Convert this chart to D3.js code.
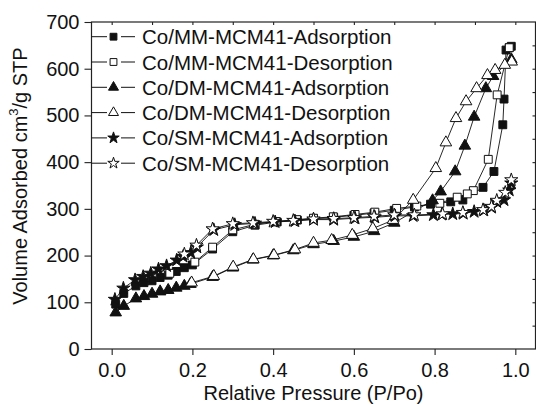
<!DOCTYPE html>
<html>
<head>
<meta charset="utf-8">
<script src="https://cdn.jsdelivr.net/npm/d3@7"></script>
<style>
  body { margin: 0; background: #fff; }
  svg text { font-family: "Liberation Sans", Arial, sans-serif; fill: #111; }
</style>
</head>
<body>
<div class="container"></div>
<script>
// MM series (squares)
const mmAdsX = [0.01, 0.03, 0.06, 0.08, 0.10, 0.12, 0.14, 0.16, 0.18, 0.20, 0.25, 0.30, 0.355, 0.41, 0.46, 0.50, 0.55, 0.60, 0.65, 0.70, 0.75, 0.79, 0.84, 0.87, 0.92, 0.947, 0.969, 0.972, 0.977, 0.985, 0.99];
const mmAdsY = [96, 119, 135, 142, 146, 153, 158, 166, 174, 180, 214, 251, 265, 272, 276, 279, 282, 286, 291, 297, 304, 310, 315, 319, 346, 380, 480, 535, 640, 645, 648];
const mmDesX = [0.985, 0.955, 0.933, 0.896, 0.881, 0.856, 0.813, 0.756, 0.706, 0.652, 0.603, 0.549, 0.50, 0.458, 0.407, 0.355, 0.30, 0.25, 0.206, 0.144];
const mmDesY = [645, 544, 406, 339, 332, 325, 312, 306, 301, 293, 288, 283, 280, 277, 273, 267, 255, 218, 186, 162];

// DM series (triangles)
const dmAdsX = [0.01, 0.03, 0.06, 0.08, 0.10, 0.12, 0.14, 0.16, 0.18, 0.195, 0.25, 0.30, 0.35, 0.40, 0.45, 0.50, 0.55, 0.60, 0.65, 0.70, 0.795, 0.815, 0.851, 0.875, 0.898, 0.927, 0.945, 0.99];
const dmAdsY = [78, 92, 108, 113, 118, 123, 126, 131, 135, 139, 154, 174, 191, 200, 211, 224, 231, 240, 252, 270, 318, 337, 380, 435, 497, 558, 584, 620];
const dmDesX = [0.991, 0.974, 0.95, 0.931, 0.904, 0.878, 0.853, 0.828, 0.803, 0.747, 0.697, 0.647, 0.596, 0.545, 0.50, 0.454, 0.402, 0.351, 0.301, 0.253, 0.198];
const dmDesY = [615, 608, 597, 586, 558, 530, 494, 442, 387, 319, 276, 258, 244, 233, 227, 213, 201, 192, 176, 156, 142];

// SM series (stars)
const smAdsX = [0.008, 0.029, 0.058, 0.078, 0.097, 0.116, 0.136, 0.161, 0.177, 0.196, 0.211, 0.253, 0.305, 0.355, 0.405, 0.454, 0.50, 0.55, 0.603, 0.652, 0.702, 0.747, 0.797, 0.818, 0.845, 0.871, 0.898, 0.922, 0.941, 0.954, 0.972, 0.985, 0.99];
const smAdsY = [106, 130, 148, 155, 162, 171, 178, 190, 198, 206, 218, 255, 266, 269, 272, 274, 277, 277, 280, 282, 285, 285, 287, 288, 289, 290, 294, 297, 303, 315, 319, 340, 355];
const smDesX = [0.99, 0.975, 0.954, 0.941, 0.92, 0.87, 0.82, 0.75, 0.70, 0.65, 0.60, 0.55, 0.50, 0.45, 0.40, 0.35, 0.30, 0.25, 0.21, 0.18];
const smDesY = [362, 335, 318, 305, 298, 292, 289, 287, 287, 284, 281, 279, 278, 275, 273, 270, 268, 257, 222, 203];

const seriesNames = ['Co/MM-MCM41-Adsorption', 'Co/MM-MCM41-Desorption', 'Co/DM-MCM41-Adsorption', 'Co/DM-MCM41-Desorption', 'Co/SM-MCM41-Adsorption', 'Co/SM-MCM41-Desorption'];
const xTicks = [0.0, 0.2, 0.4, 0.6, 0.8, 1.0];
const yTicks = [0, 100, 200, 300, 400, 500, 600, 700];

const series = [
  { name: seriesNames[0], xs: mmAdsX, ys: mmAdsY, shape: d3.symbolSquare, size: 62, filled: true },
  { name: seriesNames[1], xs: mmDesX, ys: mmDesY, shape: d3.symbolSquare, size: 62, filled: false },
  { name: seriesNames[2], xs: dmAdsX, ys: dmAdsY, shape: d3.symbolTriangle, size: 58, filled: true },
  { name: seriesNames[3], xs: dmDesX, ys: dmDesY, shape: d3.symbolTriangle, size: 58, filled: false },
  { name: seriesNames[4], xs: smAdsX, ys: smAdsY, shape: d3.symbolStar, size: 54, filled: true },
  { name: seriesNames[5], xs: smDesX, ys: smDesY, shape: d3.symbolStar, size: 54, filled: false }
];

const width = 536;
const height = 405;
const plotLeft = 91.5, plotRight = 535.5, plotTop = 22, plotBottom = 349;

const svg = d3.select('.container').append('svg').attr('width', width).attr('height', height);

const xScale = d3.scaleLinear().domain([-0.05, 1.05]).range([plotLeft, plotRight]);
const yScale = d3.scaleLinear().domain([0, 700]).range([plotBottom, plotTop]);

// frame
svg.append('rect')
  .attr('x', plotLeft).attr('y', plotTop)
  .attr('width', plotRight - plotLeft).attr('height', plotBottom - plotTop)
  .attr('fill', 'none').attr('stroke', '#222').attr('stroke-width', 1.2);

// bottom axis
const bottomAxis = svg.append('g').attr('transform', `translate(0,${plotBottom})`);
bottomAxis.call(d3.axisBottom(xScale).tickValues(d3.range(0, 1.01, 0.1)).tickSize(4).tickFormat(''));
bottomAxis.call(d3.axisBottom(xScale).tickValues(xTicks).tickSize(6).tickPadding(8).tickFormat(d3.format('.1f')));

// left axis
const leftAxis = svg.append('g').attr('transform', `translate(${plotLeft},0)`);
leftAxis.call(d3.axisLeft(yScale).tickValues(d3.range(50, 700, 100)).tickSize(4).tickFormat(''));
leftAxis.call(d3.axisLeft(yScale).tickValues(yTicks).tickSize(7).tickPadding(5));

// top and right mirrored ticks (inward)
const topAxis = svg.append('g').attr('transform', `translate(0,${plotTop})`);
topAxis.call(d3.axisBottom(xScale).tickValues(d3.range(0, 1.01, 0.1)).tickSize(3).tickFormat(''));
const rightAxis = svg.append('g').attr('transform', `translate(${plotRight},0)`);
rightAxis.call(d3.axisLeft(yScale).tickValues(d3.range(50, 700, 50)).tickSize(3).tickFormat(''));

svg.selectAll('.domain').remove();
svg.selectAll('.tick line').attr('stroke', '#222').attr('stroke-width', 1.1);
svg.selectAll('.tick text').attr('font-size', 20).attr('fill', '#111')
  .attr('font-family', '"Liberation Sans", Arial, sans-serif');

// series
const line = d3.line().x(d => xScale(d[0])).y(d => yScale(d[1]));
const plot = svg.append('g').attr('class', 'series');

series.forEach(s => {
  const pts = s.xs.map((x, i) => [x, s.ys[i]]);
  plot.append('path')
    .attr('d', line(pts))
    .attr('fill', 'none')
    .attr('stroke', '#111')
    .attr('stroke-width', 0.9);
});

series.forEach(s => {
  const pts = s.xs.map((x, i) => [x, s.ys[i]]);
  const sym = d3.symbol().type(s.shape).size(s.size);
  plot.append('g').selectAll('path').data(pts).enter().append('path')
    .attr('d', sym)
    .attr('transform', d => `translate(${xScale(d[0])},${yScale(d[1])})`)
    .attr('fill', s.filled ? '#111' : '#fff')
    .attr('stroke', '#111')
    .attr('stroke-width', 1);
});

// legend
const legend = svg.append('g').attr('class', 'legend');
series.forEach((s, i) => {
  const y = 36.7 + i * 25.3;
  const row = legend.append('g');
  row.append('line').attr('x1', plotLeft).attr('x2', 107).attr('y1', y).attr('y2', y).attr('stroke', '#111');
  row.append('line').attr('x1', 121).attr('x2', 135).attr('y1', y).attr('y2', y).attr('stroke', '#111');
  row.append('path')
    .attr('d', d3.symbol().type(s.shape).size(s.size * 0.75))
    .attr('transform', `translate(113.5,${y})`)
    .attr('fill', s.filled ? '#111' : '#fff')
    .attr('stroke', '#111');
  row.append('text')
    .attr('x', 142).attr('y', y + 7.5)
    .attr('font-size', 20.5)
    .text(s.name);
});

// axis labels
svg.append('text')
  .attr('x', (plotLeft + plotRight) / 2).attr('y', 400)
  .attr('text-anchor', 'middle')
  .attr('font-size', 20)
  .text('Relative Pressure (P/Po)');

const yLabel = svg.append('text')
  .attr('transform', `translate(27,176) rotate(-90)`)
  .attr('text-anchor', 'middle')
  .attr('font-size', 20);
yLabel.append('tspan').text('Volume Adsorbed cm');
yLabel.append('tspan').attr('font-size', 13).attr('dy', -9).text('3');
yLabel.append('tspan').attr('dy', 9).text('/g STP');
</script>
</body>
</html>
